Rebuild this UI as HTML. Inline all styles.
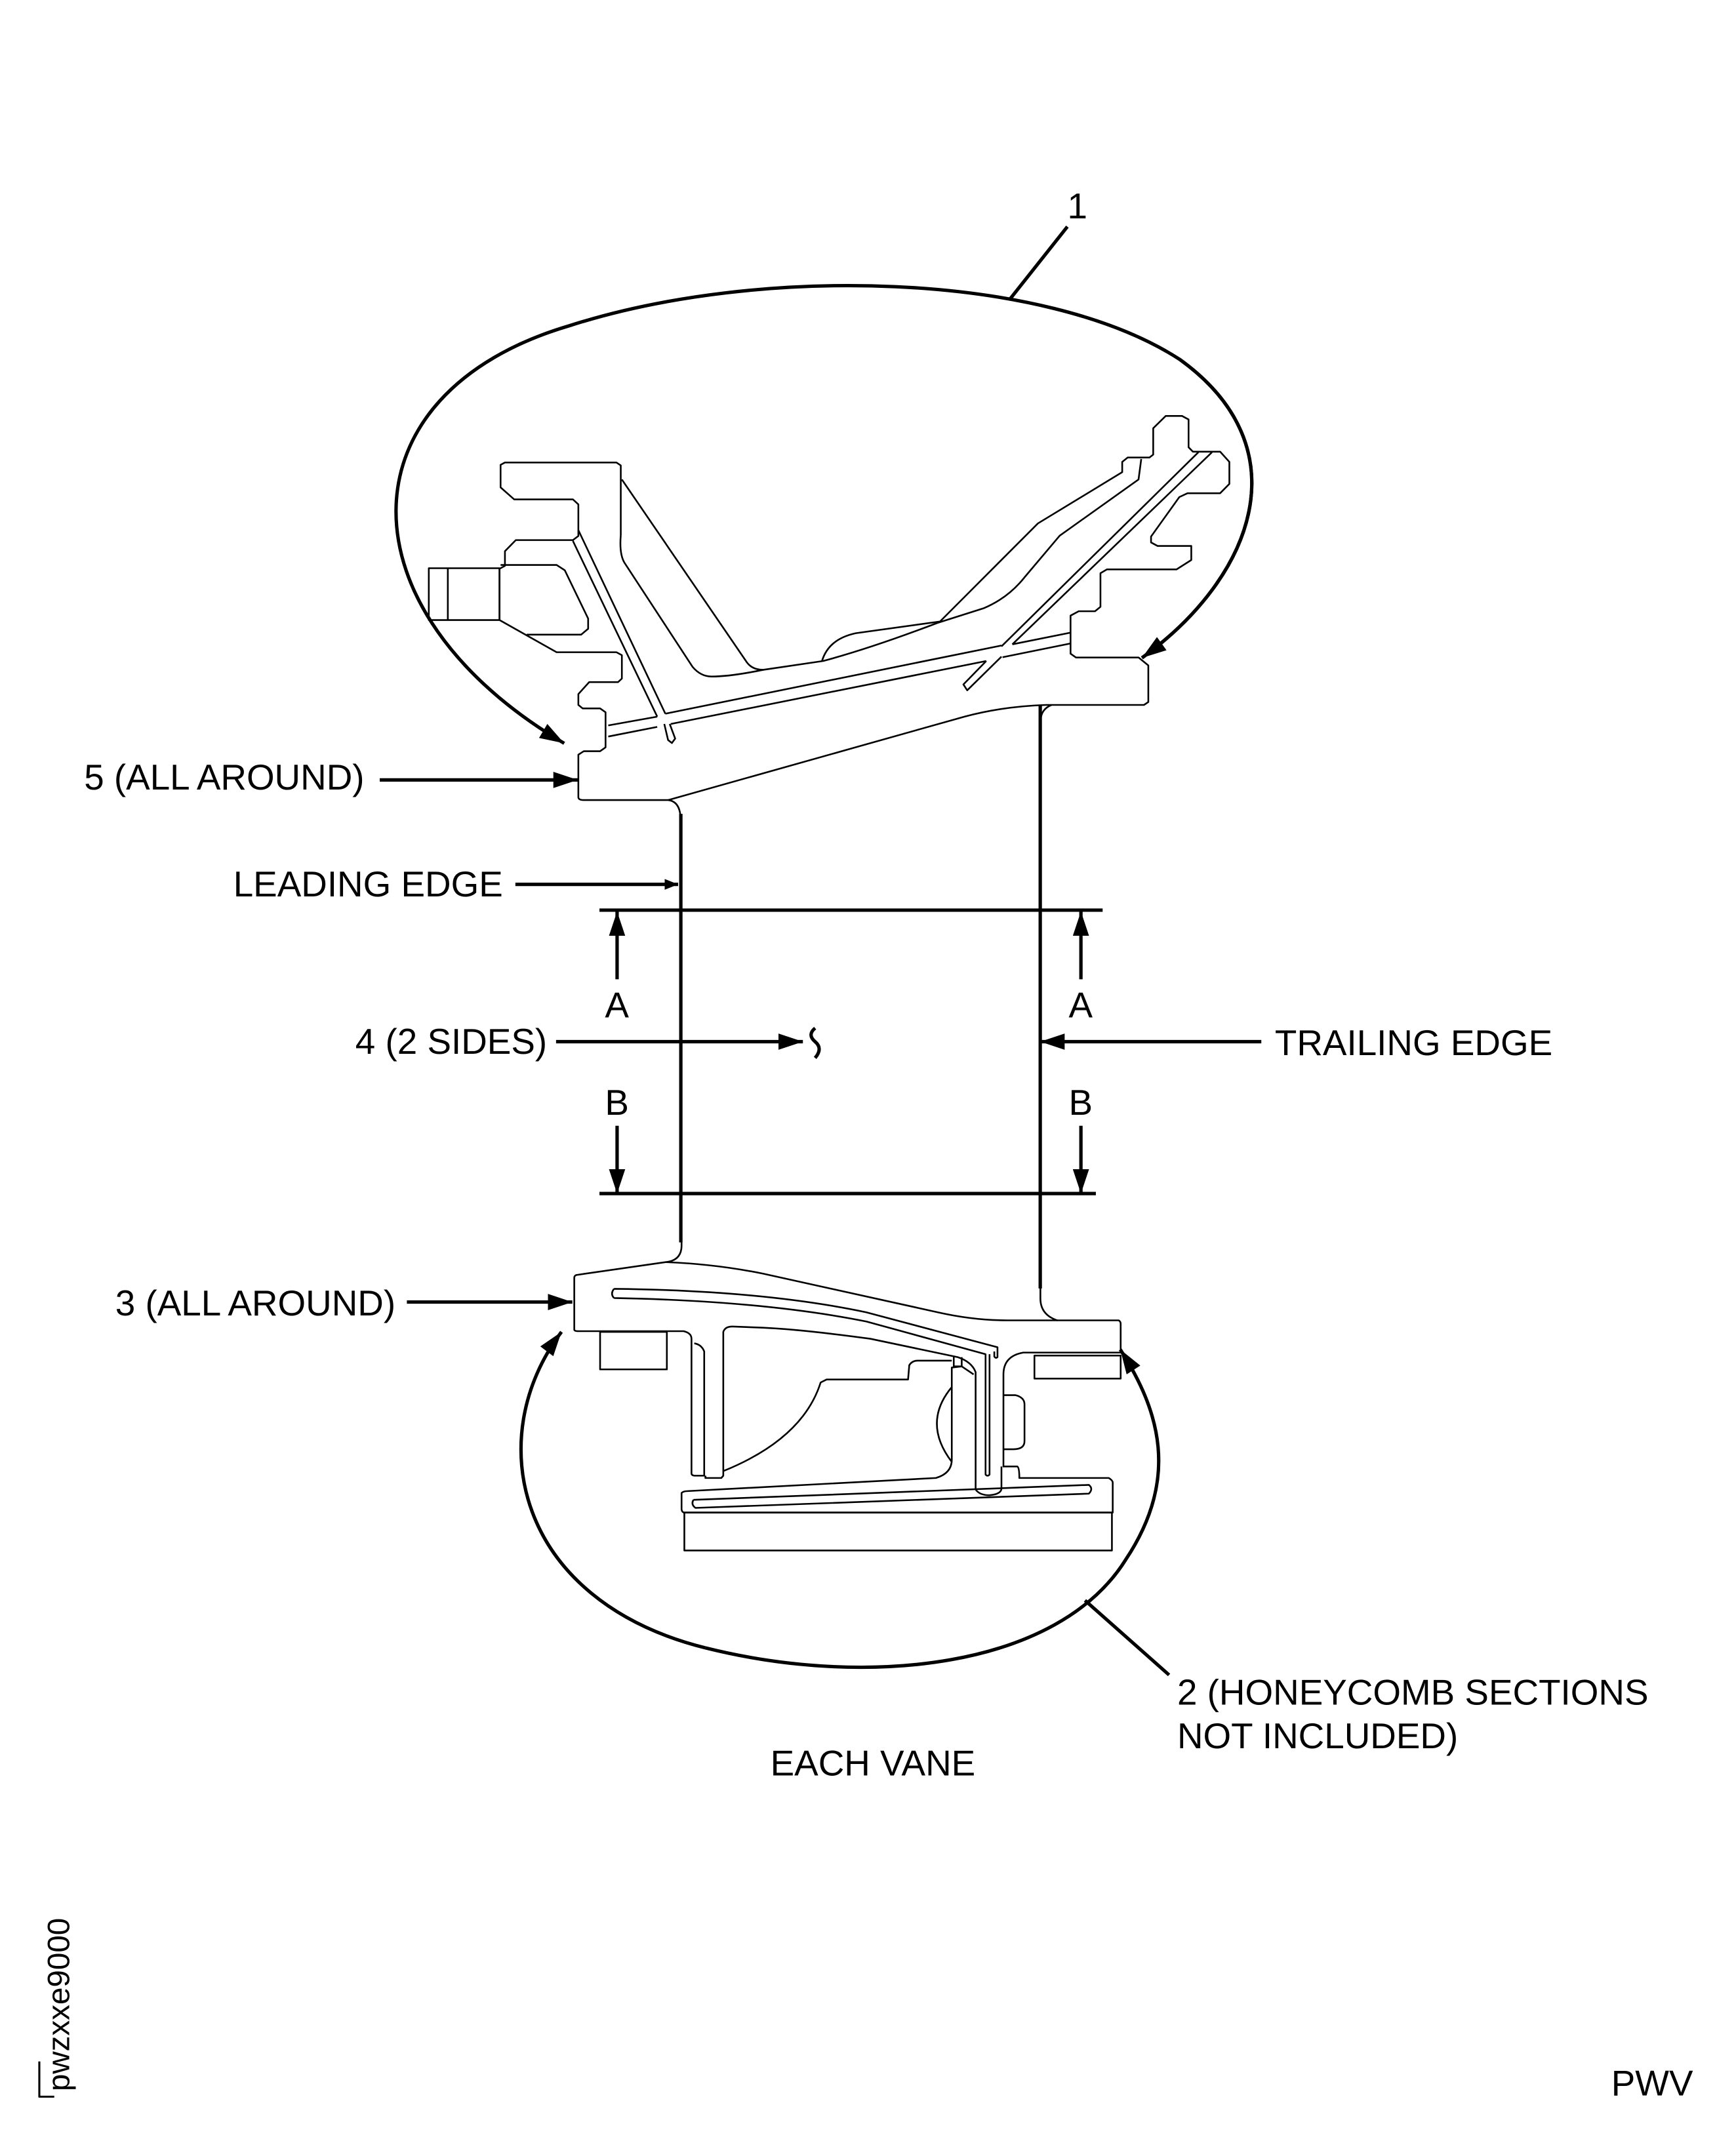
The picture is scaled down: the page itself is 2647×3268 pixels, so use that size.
<!DOCTYPE html>
<html><head><meta charset="utf-8"><style>
html,body{margin:0;padding:0;background:#fff}
svg{display:block}
text{font-family:"Liberation Sans",sans-serif;font-size:26.5px;fill:#000}
</style></head><body>
<svg width="2647" height="3268" viewBox="0 0 1280 1580" xmlns="http://www.w3.org/2000/svg">
<defs>
<marker id="ah" markerWidth="10" markerHeight="8" refX="10" refY="4" orient="auto" markerUnits="userSpaceOnUse">
<path d="M0,0 L10,4 L0,8 Z" fill="#000"/></marker>
<marker id="ab" markerWidth="18" markerHeight="12" refX="18" refY="6" orient="auto" markerUnits="userSpaceOnUse">
<path d="M0,0 L18,6 L0,12 Z" fill="#000"/></marker>
</defs>
<g fill="none" stroke="#000" stroke-width="2.5" stroke-linejoin="round">
<!-- upper ellipse and leader -->
<path d="M842,485 C 925,425 960,330 870,265 C 770,200 560,195 420,240 C 250,290 250,450 416,548" marker-end="url(#ab)"/>
<path d="M870,265 C 960,330 925,425 842,485" marker-end="url(#ab)"/>
<line x1="787" y1="167" x2="745" y2="220"/>
<!-- lower ellipse -->
<path d="M520,1215 C 380,1180 355,1060 414,982" marker-end="url(#ab)"/>
<path d="M520,1215 C 640,1245 780,1230 830,1150 C 870,1090 855,1040 826,995" marker-end="url(#ab)"/>
<line x1="800" y1="1180" x2="862" y2="1235"/>
<!-- airfoil edges -->
<line x1="502" y1="600" x2="502" y2="916"/>
<line x1="767" y1="520" x2="767" y2="950"/>
<!-- dimension lines -->
<line x1="442" y1="671" x2="813" y2="671"/>
<line x1="442" y1="880" x2="808" y2="880"/>
<line x1="455" y1="722" x2="455" y2="672" marker-end="url(#ab)"/>
<line x1="797" y1="722" x2="797" y2="672" marker-end="url(#ab)"/>
<line x1="455" y1="830" x2="455" y2="880" marker-end="url(#ab)"/>
<line x1="797" y1="830" x2="797" y2="880" marker-end="url(#ab)"/>
<!-- labels arrows -->
<line x1="280" y1="575" x2="426" y2="575" marker-end="url(#ab)"/>
<line x1="380" y1="652" x2="500" y2="652" marker-end="url(#ah)"/>
<line x1="410" y1="768" x2="592" y2="768" marker-end="url(#ab)"/>
<path d="M601,758 q-6,5 0,10 q6,5 0,12"/>
<line x1="930" y1="768" x2="767" y2="768" marker-end="url(#ab)"/>
<line x1="300" y1="960" x2="422" y2="960" marker-end="url(#ab)"/>
<!-- code bracket -->
<polyline points="29,1520 29,1546 40,1546" stroke-width="1.5"/>
</g>

<!-- Upper casting in zoom1 coordinates -->
<g transform="translate(290.1,266) scale(0.401,0.2159)" fill="none" stroke="#000" stroke-width="2.6" stroke-linejoin="round">
<path vector-effect="non-scaling-stroke" d="M528,1568 Q528,1505 505,1500 L350,1500 Q340,1500 340,1490 L340,1345 L350,1333 L380,1333 L390,1320 L390,1200 L380,1187 L348,1187 L340,1175 L340,1138 L360,1097 L413,1097 L420,1085 L420,1005 L410,995 L300,995 L195,885 L195,710 L205,700 L205,650 L225,612 L330,612 L340,598 L340,490 L330,473 L222,473 L197,432 L197,355 L205,347 L410,347 L418,357 L418,595"/>
<path vector-effect="non-scaling-stroke" d="M505,1500 L1050,1215 Q1120,1180 1200,1175 L1380,1175 L1388,1165 L1388,1040 L1370,1013 L1255,1013 L1245,1000 L1245,870 L1260,855 L1290,855 L1300,840 L1300,725 L1312,712 L1440,712 L1467,680 L1467,632 L1405,632 L1393,620 L1393,600 L1445,465 L1460,452 L1520,452 L1537,420 L1537,345 L1520,310 L1470,310 L1462,295 L1462,200 L1450,188 L1420,188 L1397,230 L1397,320 L1390,330 L1350,330 L1340,345 L1340,380 L1185,555 L1005,890 L850,930 Q800,950 788,1025"/>
<path vector-effect="non-scaling-stroke" d="M1375,335 L1370,405 L1225,597 L1160,740 Q1130,810 1085,845 L1000,895 Q880,980 790,1025 L680,1055 Q620,1078 585,1078 Q565,1078 550,1045 L425,690 Q415,660 418,595"/>
<path vector-effect="non-scaling-stroke" d="M420,405 L650,1030 Q660,1055 680,1055"/>
<path vector-effect="non-scaling-stroke" d="M1210,1175 Q1190,1190 1190,1230 L1190,1568"/>
<rect vector-effect="non-scaling-stroke" x="65" y="708" width="130" height="177"/>
<line vector-effect="non-scaling-stroke" x1="100" y1="708" x2="100" y2="885"/>
<path vector-effect="non-scaling-stroke" d="M245,935 L345,935 L358,915 L358,880 L315,715 L300,697 L197,697"/>
<path vector-effect="non-scaling-stroke" d="M330,615 L485,1215 M498,1240 L505,1295 L512,1305 L518,1290 L508,1240 M340,578 L500,1205"/>
<path vector-effect="non-scaling-stroke" d="M395,1245 L485,1215 M500,1205 L1118,972 M1138,968 L1245,928 M395,1283 L485,1250 M510,1240 L1090,1025 M1120,1012 L1245,965"/>
<path vector-effect="non-scaling-stroke" d="M1480,312 L1118,975 M1090,1025 L1048,1105 L1055,1125 L1118,1010 M1138,968 L1505,312"/>
</g>

<!-- Lower casting in zoom2 coordinates -->
<g transform="translate(386.8,894.6) scale(0.293,0.1697)" fill="none" stroke="#000" stroke-width="2.6" stroke-linejoin="round">
<path vector-effect="non-scaling-stroke" d="M395,100 L395,140 Q395,205 355,212 L130,268 Q125,272 125,280 L125,505 Q125,512 135,512 L400,512 Q420,520 420,545 L420,1130 Q420,1140 430,1140 L450,1140 L452,1140 L452,600 Q445,570 427,565"/>
<path vector-effect="non-scaling-stroke" d="M355,212 Q480,220 600,262 L1040,430 Q1130,465 1215,465 L1340,465 Q1298,440 1298,370 L1298,0"/>
<path vector-effect="non-scaling-stroke" d="M1340,465 L1495,465 Q1500,470 1500,480 L1500,605 L1255,605 Q1205,620 1205,700 L1205,1100 L1240,1100 Q1245,1105 1245,1150 L1470,1150 Q1480,1160 1480,1170 L1480,1300 L400,1300 Q395,1295 395,1285 L395,1215 Q400,1207 410,1207 L1035,1150 Q1075,1130 1075,1070 L1075,670 L1100,665 L1130,700"/>
<path vector-effect="non-scaling-stroke" d="M455,1140 L455,1150 L495,1150 L500,1140 L500,515 Q505,490 525,492 L600,497 Q700,505 870,545 L1090,625 Q1125,645 1135,690 L1135,1200 Q1145,1225 1170,1225 Q1200,1220 1200,1195 L1200,1100"/>
<path vector-effect="non-scaling-stroke" d="M225,328 Q600,335 860,430 L1190,582 L1190,625 Q1186,632 1182,622 L1182,600 M225,368 Q215,350 225,328 M225,368 Q600,380 860,470 L1160,612 L1160,1135 Q1165,1145 1170,1135 L1170,612"/>
<path vector-effect="non-scaling-stroke" d="M425,1245 L1420,1180 Q1432,1197 1420,1218 L430,1280 Q418,1265 425,1245"/>
<rect vector-effect="non-scaling-stroke" x="402" y="1300" width="1076" height="165"/>
<rect vector-effect="non-scaling-stroke" x="190" y="515" width="168" height="163"/>
<rect vector-effect="non-scaling-stroke" x="1283" y="618" width="217" height="100"/>
<path vector-effect="non-scaling-stroke" d="M500,1120 Q700,980 745,735 L760,722 L965,722 L968,660 Q975,640 990,640 L1075,640 M1080,622 L1080,665 L1100,665 L1100,625"/>
<path vector-effect="non-scaling-stroke" d="M1075,755 Q1000,910 1075,1080"/>
<path vector-effect="non-scaling-stroke" d="M1205,790 L1235,790 Q1258,800 1258,830 L1258,990 Q1258,1025 1230,1025 L1205,1025"/>
</g>

<g>
<text x="787" y="161">1</text>
<text x="62" y="582">5 (ALL AROUND)</text>
<text x="172" y="661">LEADING EDGE</text>
<text x="446" y="750">A</text>
<text x="788" y="750">A</text>
<text x="446" y="822">B</text>
<text x="788" y="822">B</text>
<text x="262" y="777">4 (2 SIDES)</text>
<text x="940" y="778">TRAILING EDGE</text>
<text x="85" y="970">3 (ALL AROUND)</text>
<text x="868" y="1257">2 (HONEYCOMB SECTIONS</text>
<text x="868" y="1289">NOT INCLUDED)</text>
<text x="568" y="1309">EACH VANE</text>
<text x="1188" y="1545">PWV</text>
<text transform="translate(51,1542) rotate(-90)" style="font-size:23px">pwzxxe9000</text>
</g>
</svg>
</body></html>
